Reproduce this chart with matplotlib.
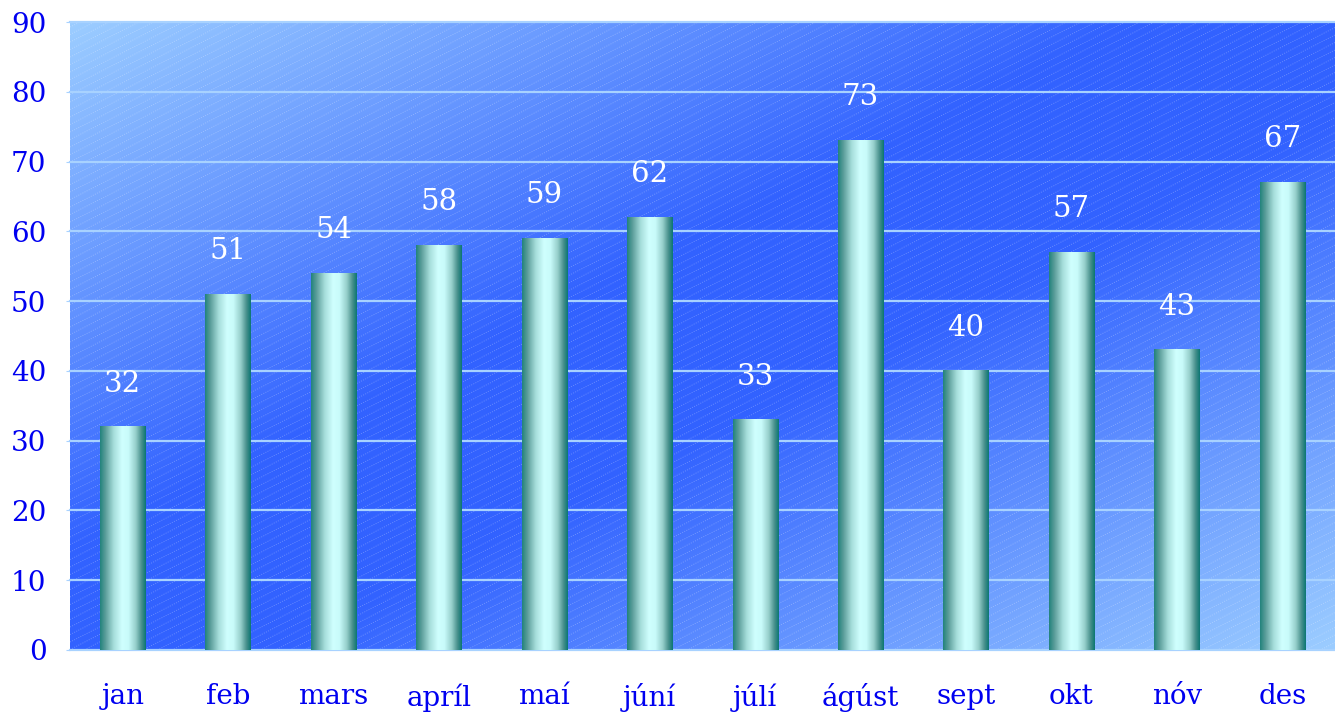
import numpy as np
import matplotlib.pyplot as plt
from matplotlib.colors import LinearSegmentedColormap, to_rgb
from matplotlib.collections import LineCollection

months = ["jan", "feb", "mars", "apríl", "maí", "júní", "júlí", "ágúst", "sept", "okt", "nóv", "des"]
values = [32, 51, 54, 58, 59, 62, 33, 73, 40, 57, 43, 67]
yticks = [0, 10, 20, 30, 40, 50, 60, 70, 80, 90]

plt.rcParams['font.family'] = ['DejaVu Serif']

fig = plt.figure(figsize=(13.35, 7.17), dpi=100)
ax = fig.add_axes([70 / 1335, 67 / 717, 1265 / 1335, 628 / 717])

# diagonal background: light at top-left and bottom-right, deep blue across the middle
light = np.array(to_rgb("#9ccdff"))
dark = np.array(to_rgb("#3262ff"))
gx, gy = np.meshgrid(np.linspace(0, 1, 400), np.linspace(1, 0, 200))
t = (gx + (1 - gy)) / 2
w = np.clip((0.5 - np.abs(t - 0.5)) / 0.42, 0, 1)
bg = light[None, None, :] * (1 - w[..., None]) + dark[None, None, :] * w[..., None]
ax.imshow(bg, extent=[0, 1, 0, 1], transform=ax.transAxes, aspect='auto',
          zorder=0, interpolation='bilinear')

# fine dotted diagonal texture
ax_w, ax_h = 1265.0, 628.0
slope = np.tan(np.radians(27)) * ax_w / ax_h
segs = []
for b in np.arange(-slope, 1.0, 7.5 / ax_h):
    segs.append([(0, b), (1, b + slope)])
lc = LineCollection(segs, colors=(1, 1, 1, 0.3), linewidths=0.6,
                    linestyles=(0, (1.2, 1.6)), transform=ax.transAxes, zorder=1)
ax.add_collection(lc)

x = np.arange(len(months))
for yv in yticks:
    ax.axhline(yv, color="#a8d2ff", lw=1.6, zorder=2, clip_on=False)

bars = ax.bar(x, values, width=0.43, color='none', edgecolor='none', zorder=3)

cyl = LinearSegmentedColormap.from_list("cyl", [
    (0.0, "#22827c"), (0.12, "#5c9e9b"), (0.3, "#a6dedb"), (0.48, "#cffffe"),
    (0.62, "#c8fbfa"), (0.78, "#96cfcb"), (0.9, "#4b928e"), (1.0, "#0b7672")])
grad = np.linspace(0, 1, 256)[None, :]
for bar in bars:
    x0 = bar.get_x()
    ax.imshow(grad, cmap=cyl, extent=[x0, x0 + bar.get_width(), 0, bar.get_height()],
              aspect='auto', zorder=4, interpolation='bilinear')
    ax.annotate(f"{bar.get_height():g}", (x0 + bar.get_width() / 2, bar.get_height()),
                xytext=(0, 21), textcoords='offset points', ha='center', va='bottom',
                color='white', fontsize=21, zorder=5)

ax.set_xlim(-0.5, len(months) - 0.5)
ax.set_ylim(0, 90)
ax.set_yticks(yticks)
ax.set_xticks(x)
ax.set_xticklabels(months)
ax.tick_params(axis='x', length=0, pad=24, labelsize=20, labelcolor='#0000f0')
ax.tick_params(axis='y', length=3, color='#a8d2ff', pad=14, labelsize=20, labelcolor='#0000f0')
for s in ax.spines.values():
    s.set_visible(False)

fig.savefig("out.png", dpi=100)
